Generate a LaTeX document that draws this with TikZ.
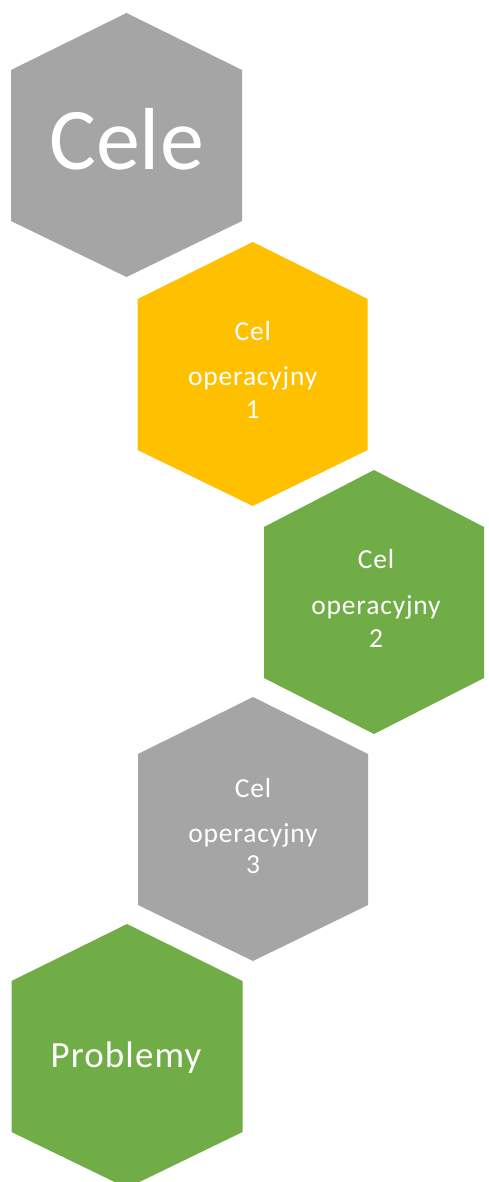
\documentclass[tikz,border=0pt]{standalone}
\usepackage{fontspec}
\setmainfont{Carlito}
\newfontfamily\spacedfont[LetterSpace=3]{Carlito}
\definecolor{hgray}{HTML}{A5A5A5}
\definecolor{hyellow}{HTML}{FFC000}
\definecolor{hgreen}{HTML}{70AD47}
\tikzset{
  lbl/.style={text=white, anchor=base, inner sep=0pt, font=\spacedfont\fontsize{27.5}{30}\selectfont},
  biglbl/.style={text=white, anchor=base, inner sep=0pt, font=\fontsize{88}{96}\selectfont},
  midlbl/.style={text=white, anchor=base, inner sep=0pt, font=\spacedfont\fontsize{37}{44}\selectfont}
}
\newcommand{\hexshape}[4]{% cx, top, halfwidth, colour
  \fill[#4] (#1,#2) -- ({#1+#3},{#2+57}) -- ({#1+#3},{#2+208}) -- (#1,{#2+264})
    -- ({#1-#3},{#2+208}) -- ({#1-#3},{#2+57}) -- cycle;}
\begin{document}
\begin{tikzpicture}[x=1pt,y=-1pt]
\useasboundingbox (0,0) rectangle (488,1182);
\clip (0,0) rectangle (488,1182);
\fill[white] (0,0) rectangle (488,1182);
\hexshape{126.5}{13}{115.5}{hgray}
\hexshape{252.7}{242}{115}{hyellow}
\hexshape{374}{470}{110}{hgreen}
\hexshape{253}{697}{115}{hgray}
\hexshape{127}{924}{115.5}{hgreen}
% texts
\node[biglbl] (cele) at (126.5,170) {Cele};
\node[lbl] (c1a) at (252.7,340) {Cel};
\node[lbl] (c1b) at (252.7,385) {operacyjny};
\node[lbl] (c1c) at (252.7,418) {1};
\node[lbl] (c2a) at (376,568) {Cel};
\node[lbl] (c2b) at (376,614) {operacyjny};
\node[lbl] (c2c) at (376,647) {2};
\node[lbl] (c3a) at (253,797) {Cel};
\node[lbl] (c3b) at (253,842) {operacyjny};
\node[lbl] (c3c) at (253,873) {3};
\node[midlbl] (prob) at (126,1067) {Problemy};
\end{tikzpicture}
\end{document}
